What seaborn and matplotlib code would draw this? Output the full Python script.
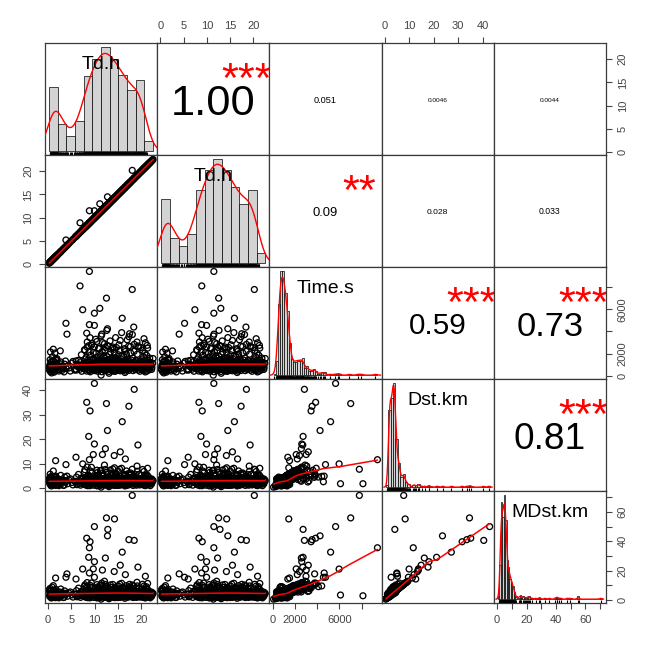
import numpy as np
import pandas as pd
import matplotlib
matplotlib.use("Agg")
import matplotlib.pyplot as plt
import matplotlib.transforms as mtransforms
import seaborn as sns

# ---------------- data ----------------
var_labels = ["Td.h", "Td.h", "Time.s", "Dst.km", "MDst.km"]

# individual outlying trips (hour, second hour reading, seconds, km, km)
out_td = [9.94, 18.5, 8.29, 12.53, 9.0, 17.36, 15.92, 12.75, 8.72, 3.82, 7.42, 8.86,
          18.08, 11.1, 6.85, 9.94, 8.86, 14.26, 12.82, 19.3, 9.94, 12.3, 11.66, 20.9,
          15.5, 5.98, 4.04, 11.53, 17.5, 18.1, 16.6, 1.6, 14.2, 9.7]
out_td_b = [11.5, 18.5, 8.29, 12.53, 9.0, 17.36, 15.92, 14.5, 8.72, 5.2, 7.42, 11.5,
            20.2, 13.0, 8.9, 9.94, 8.86, 14.26, 12.82, 19.3, 9.94, 12.3, 11.66, 20.9,
            15.5, 5.98, 4.04, 11.53, 17.5, 18.1, 16.6, 1.6, 14.2, 9.7]
out_time = [5650, 2840, 3850, 7010, 3440, 3530, 5200, 4250, 2720, 4740, 5966, 9420,
            7790, 6090, 8113, 4550, 4620, 1430, 2720, 2690, 2600, 2566, 3000, 2982,
            3190, 1343, 3760, 3760, 3800, 3725, 2200, 1500, 2400, 2100]
out_dst = [42.8, 40.4, 35.1, 34.6, 31.6, 33.5, 27.2, 23.6, 21.2, 9.7, 10.0, 11.7,
           7.8, 1.9, 1.9, 2.7, 5.0, 8.4, 4.2, 17.7, 18.1, 16.2, 13.8, 5.3,
           14.9, 12.7, 5.0, 6.0, 5.5, 4.5, 12.0, 11.3, 13.4, 13.8]
out_mdst = [50.0, 40.6, 42.1, 55.9, 39.7, 41.1, 32.6, 43.7, 29.1, 15.5, 21.1, 35.6,
            71.2, 3.4, 2.9, 15.5, 18.4, 55.2, 48.1, 22.4, 26.1, 28.6, 20.4, 16.2,
            23.7, 14.3, 17.8, 11.6, 10.7, 10.2, 17.3, 15.0, 19.4, 21.2]

# longer trips in the 2000-4500 s fan
mid_td = [7.8, 8.4, 9.3, 10.2, 10.9, 11.4, 12.1, 12.6, 13.3, 13.9,
          14.5, 15.2, 15.8, 16.4, 17.0, 17.7, 18.4, 19.1, 19.9, 20.6,
          21.3, 2.6, 1.1, 0.5]
mid_time = [2350, 3050, 2750, 3300, 2480, 3600, 2900, 4100, 3150, 2600,
            3450, 2800, 3900, 2450, 3250, 2650, 4400, 3050, 2550, 3350,
            2750, 2250, 2400, 2150]
mid_dst = [6.8, 4.1, 8.6, 5.2, 3.3, 7.4, 9.5, 4.6, 2.6, 7.9,
           5.9, 3.8, 8.2, 5.6, 3.1, 6.3, 4.9, 9.1, 2.9, 6.9,
           5.4, 3.6, 7.1, 4.4]
mid_mdst = [9.4, 8.2, 11.6, 7.8, 6.4, 10.3, 12.8, 9.1, 5.9, 10.6,
            8.3, 7.1, 11.4, 7.9, 6.2, 8.8, 9.6, 12.1, 5.5, 9.5,
            7.6, 5.4, 9.8, 6.3]

# the wider bulk of trips
blob_td = [0.21, 0.35, 0.42, 0.58, 0.66, 0.73, 0.85, 0.94, 1.02, 1.15, 1.22, 1.31, 1.44, 1.52, 1.63, 1.71, 1.86, 1.95,
           2.12, 2.38, 2.71, 2.95, 3.27, 3.55, 3.88,
           4.45, 5.12, 5.71,
           6.18, 6.52, 6.87, 7.14, 7.36, 7.63, 7.91,
           8.05, 8.21, 8.38, 8.47, 8.63, 8.79, 8.91, 9.08, 9.26, 9.41, 9.58, 9.72, 9.89,
           10.03, 10.11, 10.24, 10.33, 10.42, 10.55, 10.61, 10.74, 10.82, 10.93, 11.04, 11.12,
           11.21, 11.29, 11.38, 11.47, 11.56, 11.63, 11.72, 11.79, 11.85, 11.91, 11.96, 10.48,
           12.02, 12.09, 12.17, 12.24, 12.36, 12.44, 12.51, 12.62, 12.69, 12.77, 12.86, 12.93, 13.01,
           13.08, 13.16, 13.23, 13.31, 13.39, 13.47, 13.55, 13.62, 13.71, 13.79, 13.86, 13.93, 13.98,
           14.04, 14.12, 14.19, 14.27, 14.35, 14.43, 14.52, 14.6, 14.68, 14.77, 14.85, 14.94,
           15.02, 15.11, 15.19, 15.28, 15.37, 15.45, 15.56, 15.64, 15.73, 15.82, 15.93,
           16.05, 16.14, 16.23, 16.31, 16.42, 16.5, 16.61, 16.7, 16.82, 16.9, 17.01, 17.1,
           17.2, 17.29, 17.41, 17.52, 17.63, 17.75, 17.88,
           18.06, 18.19, 18.33, 18.46, 18.58, 18.72, 18.85, 19.0, 19.16, 19.31, 19.49, 19.66, 19.85,
           20.04, 20.13, 20.22, 20.31, 20.4, 20.51, 20.6, 20.69, 20.78, 20.88, 20.97, 21.08,
           21.17, 21.27, 21.38, 21.49, 21.6, 21.71, 21.83, 21.94,
           22.08, 22.3, 22.55]
blob_time = [620, 980, 1450, 760, 1210, 260, 890, 1720, 700, 1330, 460, 1050, 2050, 830, 1180, 640, 1560, 920,
             560, 900, 1250, 480, 720, 1050, 650,
             700, 1150, 520,
             880, 1400, 600, 1900, 760, 1100, 2300,
             950, 1650, 2600, 720, 1300, 2150, 480, 1850, 1020, 2900, 640, 1500, 820,
             880, 1420, 560, 2050, 1120, 760, 1680, 950, 2450, 620, 1300, 830,
             1900, 1050, 60, 1550, 700, 2200, 990, 1250, 590, 1780, 1080, 3100,
             1010, 640, 1580, 2300, 870, 1190, 530, 1740, 960, 2700, 760, 1360, 1120,
             230, 1920, 830, 1470, 2150, 680, 1030, 1610, 920, 2480, 570, 1250, 790,
             720, 1340, 980, 2100, 410, 1640, 860, 1200, 2550, 650, 1480, 1050,
             790, 1900, 610, 1270, 2250, 940, 1560, 700, 1130, 1820, 880,
             1090, 680, 1750, 920, 2350, 300, 1380, 800, 1960, 1160, 620, 1520,
             990, 2680, 740, 1280, 860, 2050, 1420,
             940, 1610, 720, 2200, 1180, 580, 1390, 860, 1950, 1060, 2600, 690, 1290,
             820, 1450, 1020, 2300, 640, 1700, 1150, 900, 2050, 350, 1330, 760,
             1850, 1080, 2500, 690, 1240, 970, 1600, 810,
             1200, 760, 1560]
blob_dst = [3.4, 1.9, 5.8, 1.2, 4.9, 1.6, 4.1, 3.7, 3.3, 2.6, 2.4, 4.5, 4.8, 1.5, 5.0, 3.0, 3.2, 1.6,
            3.1, 1.6, 5.3, 2.7, 1.2, 4.6, 3.2,
            3.5, 2.4, 2.9,
            1.5, 5.7, 3.1, 4.2, 3.8, 2.1, 7.6,
            4.3, 3.6, 8.7, 1.1, 5.4, 4.5, 2.8, 7.1, 1.9, 6.4, 3.4, 3.1, 3.9,
            4.1, 3.0, 3.1, 4.6, 4.9, 1.1, 6.5, 1.7, 5.3, 3.3, 2.6, 4.0,
            7.2, 2.0, 0.5, 3.4, 3.6, 5.0, 1.8, 5.4, 3.2, 3.9, 2.1, 7.4,
            1.8, 3.4, 3.3, 7.7, 4.1, 2.2, 3.0, 6.6, 1.5, 5.9, 3.7, 2.7, 4.8,
            0.7, 4.0, 3.9, 2.9, 7.5, 3.5, 1.9, 6.1, 1.4, 5.3, 3.2, 2.4, 3.8,
            3.6, 2.7, 4.4, 4.6, 1.2, 6.3, 1.4, 5.1, 5.6, 3.5, 3.1, 4.6,
            1.2, 6.9, 3.3, 2.5, 7.8, 1.6, 3.2, 3.6, 2.1, 3.8, 4.2,
            2.0, 3.5, 3.7, 4.2, 5.2, 1.0, 5.6, 1.2, 7.1, 2.1, 3.3, 3.1,
            4.4, 6.1, 3.7, 2.4, 4.0, 4.5, 5.7,
            4.3, 3.4, 3.6, 4.8, 2.2, 3.2, 5.6, 1.3, 7.0, 1.9, 5.7, 3.5, 2.5,
            4.0, 3.0, 1.8, 7.7, 3.4, 3.6, 4.9, 1.4, 4.4, 1.1, 5.4, 3.8,
            3.9, 1.9, 8.2, 3.6, 2.4, 4.4, 3.3, 1.1,
            2.2, 3.8, 3.2]
blob_mdst = [6.9, 2.4, 7.9, 1.8, 6.5, 2.0, 8.8, 5.0, 4.8, 3.5, 3.4, 6.4, 6.6, 2.2, 7.3, 4.0, 4.6, 2.3,
             4.4, 2.3, 7.5, 3.6, 1.7, 6.2, 4.6,
             4.8, 3.5, 4.1,
             2.2, 8.1, 4.2, 6.0, 5.1, 3.0, 10.4,
             6.0, 8.9, 11.9, 1.6, 7.3, 6.4, 3.8, 9.9, 5.4, 8.7, 4.8, 4.2, 5.5,
             5.6, 7.9, 4.2, 6.5, 6.8, 1.6, 8.9, 4.9, 7.5, 4.5, 2.9, 5.5,
             9.9, 2.8, 0.6, 4.8, 9.0, 7.1, 2.5, 7.4, 4.6, 5.3, 3.0, 10.5,
             2.6, 8.4, 4.6, 10.6, 5.8, 5.9, 4.3, 9.2, 2.1, 8.2, 5.1, 3.8, 6.8,
             0.9, 5.5, 4.3, 4.1, 10.3, 8.7, 2.7, 8.6, 2.0, 7.3, 4.5, 3.3, 5.3,
             5.0, 6.9, 6.1, 6.3, 1.6, 8.7, 4.6, 7.1, 7.8, 4.8, 4.4, 5.1,
             1.7, 9.5, 4.6, 7.2, 10.8, 2.3, 4.5, 5.1, 2.9, 5.2, 5.9,
             2.9, 8.8, 5.2, 5.8, 7.3, 1.2, 7.7, 3.9, 9.8, 3.0, 4.6, 3.5,
             6.2, 8.5, 5.1, 3.4, 5.6, 6.2, 7.9,
             5.9, 7.7, 5.0, 6.7, 2.4, 4.5, 7.8, 1.8, 9.6, 2.7, 7.9, 4.9, 3.5,
             5.6, 7.6, 2.0, 10.7, 4.7, 5.0, 6.9, 2.0, 6.1, 1.4, 7.6, 9.1,
             5.4, 2.7, 11.3, 5.0, 3.4, 6.1, 4.6, 1.5,
             3.1, 5.3, 4.5]

# the dense core of short trips
core_td = [0.26, 0.31, 0.47, 0.53, 0.62, 0.69, 0.78, 0.88, 0.97, 1.07, 1.18, 1.27, 1.36, 1.49, 1.57, 1.77, 1.91,
           2.05, 2.29, 2.56, 2.84, 3.12, 3.41, 3.72,
           4.18, 4.76, 5.33, 5.88,
           6.08, 6.33, 6.61, 6.95, 7.22, 7.48, 7.71, 7.97,
           8.02, 8.13, 8.26, 8.33, 8.42, 8.55, 8.68, 8.74, 8.83, 8.97,
           9.04, 9.13, 9.21, 9.33, 9.46, 9.52, 9.64, 9.77, 9.83, 9.95,
           10.06, 10.15, 10.19, 10.28, 10.37, 10.46, 10.52, 10.58, 10.67, 10.78,
           10.86, 10.97, 11.01, 11.09, 11.16, 11.25, 11.33, 11.42, 11.51, 11.59,
           11.68, 11.76, 11.88, 11.93,
           12.05, 12.13, 12.2, 12.28, 12.32, 12.4, 12.48, 12.56, 12.65, 12.73,
           12.81, 12.89, 12.97, 13.04, 13.12, 13.19, 13.27, 13.35, 13.43, 13.51,
           13.58, 13.66, 13.74, 13.82, 13.89, 13.95, 12.59,
           14.01, 14.09, 14.16, 14.23, 14.31, 14.39, 14.47, 14.56, 14.64, 14.72,
           14.81, 14.89, 14.97, 15.06, 15.14, 15.23, 15.32, 15.41, 15.5, 15.59,
           15.68, 15.77, 15.86, 15.97,
           16.02, 16.1, 16.19, 16.27, 16.36, 16.46, 16.55, 16.65, 16.76, 16.86,
           16.95, 17.05, 17.15, 17.24, 17.34, 17.46, 17.57, 17.68, 17.8, 17.93,
           18.02, 18.13, 18.26, 18.39, 18.52, 18.65, 18.78, 18.91, 19.05, 19.2,
           19.36, 19.43, 19.57, 19.71, 19.79, 19.92,
           20.08, 20.17, 20.26, 20.35, 20.45, 20.55, 20.64, 20.74, 20.83, 20.93,
           21.02, 21.12, 21.22, 21.33, 21.44, 21.55, 21.66, 21.77, 21.89,
           22.15, 22.24, 22.47]
core_time = [540, 820, 380, 1010, 690, 1280, 470, 930, 610, 750, 1120, 330, 860, 580, 990, 720, 1380,
             810, 430, 1090, 620, 880, 350, 1340,
             900, 430, 1300, 610,
             520, 1030, 740, 1260, 410, 950, 640, 1520,
             610, 1180, 430, 870, 1390, 720, 980, 520, 1240, 800,
             360, 1080, 660, 1460, 900, 560, 1150, 760, 1020, 470,
             720, 1040, 480, 860, 1310, 590, 940, 1170, 410, 800,
             1090, 650, 1420, 530, 880, 1230, 700, 990, 370, 1110,
             780, 1350, 610, 920,
             780, 1130, 460, 920, 1370, 640, 1010, 850, 1250, 560,
             970, 700, 1460, 390, 1060, 810, 1190, 600, 890, 1320,
             520, 990, 740, 1100, 430, 1280, 680,
             890, 540, 1210, 760, 1050, 420, 1330, 680, 960, 1140,
             590, 830, 1400, 500, 1010, 740, 1190, 870, 450, 1080,
             650, 1280, 930, 560,
             760, 1120, 520, 940, 1290, 640, 1030, 430, 870, 1210,
             580, 990, 700, 1360, 480, 910, 1150, 610, 1040, 790,
             680, 1050, 470, 880, 1240, 590, 960, 1370, 730, 1120,
             520, 830, 1010, 410, 1290, 650,
             930, 560, 1170, 740, 1320, 480, 1010, 850, 620, 1230,
             770, 1080, 430, 950, 1400, 670, 1120, 540, 880,
             940, 580, 1130]
core_dst = [4.2, 2.3, 3.0, 1.9, 2.7, 1.0, 3.4, 2.4, 2.0, 2.9, 1.5, 3.9, 2.2, 3.1, 1.2, 2.6, 1.7,
            4.0, 1.1, 2.7, 1.9, 3.3, 1.3, 2.5,
            1.9, 3.9, 1.4, 2.8,
            4.6, 2.0, 2.9, 1.3, 3.8, 2.3, 3.1, 1.6,
            1.4, 3.1, 2.3, 3.5, 1.7, 2.8, 4.4, 2.0, 3.3, 1.1,
            2.5, 3.8, 1.6, 3.0, 2.2, 4.2, 2.7, 1.3, 3.6, 1.9,
            2.8, 1.9, 4.1, 2.4, 3.4, 1.1, 3.0, 2.1, 3.7, 2.7,
            1.6, 4.3, 2.0, 3.3, 2.5, 1.2, 3.5, 2.9, 1.8, 4.0,
            2.6, 1.5, 3.2, 2.2,
            2.1, 3.9, 1.3, 3.3, 2.3, 3.0, 1.6, 4.0, 2.7, 1.8,
            3.6, 2.5, 3.2, 1.2, 4.4, 2.1, 2.9, 1.7, 3.8, 2.6,
            3.1, 2.0, 4.1, 2.8, 1.4, 3.4, 2.4,
            1.7, 2.8, 3.9, 2.0, 3.3, 1.4, 2.6, 3.6, 2.3, 3.1,
            1.5, 4.3, 2.5, 1.8, 3.5, 2.9, 2.1, 4.0, 1.3, 3.2,
            2.3, 3.7, 1.7, 2.7,
            2.4, 3.2, 1.9, 3.5, 2.8, 1.5, 4.1, 2.1, 3.0, 1.8,
            3.7, 2.7, 1.3, 3.1, 2.0, 3.9, 2.9, 1.6, 3.4, 2.3,
            2.0, 3.9, 1.2, 3.1, 2.5, 1.6, 3.4, 2.2, 4.2, 2.9,
            1.8, 3.8, 2.7, 1.4, 3.2, 2.1,
            2.7, 1.6, 3.4, 2.0, 4.2, 2.9, 1.3, 3.3, 2.4, 3.7,
            1.9, 2.6, 3.1, 1.5, 4.0, 2.3, 3.5, 1.7, 2.8,
            3.4, 1.8, 2.9]
core_mdst = [6.1, 3.2, 4.2, 2.6, 3.8, 1.4, 4.8, 3.3, 2.7, 4.1, 2.1, 5.6, 3.1, 4.3, 1.6, 3.6, 2.4,
             5.7, 1.5, 3.8, 2.7, 4.6, 1.8, 3.5,
             2.6, 5.5, 2.0, 3.9,
             6.4, 2.8, 4.1, 1.8, 5.4, 3.2, 4.4, 2.3,
             2.0, 4.4, 3.2, 4.9, 2.4, 3.9, 6.2, 2.8, 4.6, 1.5,
             3.5, 5.3, 2.3, 4.2, 3.1, 5.9, 3.8, 1.8, 5.1, 2.7,
             3.9, 2.7, 5.7, 3.4, 4.8, 1.5, 4.2, 2.9, 5.2, 3.8,
             2.2, 6.0, 2.8, 4.6, 3.5, 1.7, 4.9, 4.0, 2.5, 5.6,
             3.6, 2.1, 4.5, 3.1,
             2.9, 5.5, 1.8, 4.6, 3.2, 4.2, 2.2, 5.6, 3.8, 2.5,
             5.0, 3.5, 4.5, 1.7, 6.2, 2.9, 4.1, 2.4, 5.3, 3.6,
             4.3, 2.8, 5.7, 3.9, 2.0, 4.8, 3.4,
             2.4, 3.9, 5.5, 2.8, 4.6, 2.0, 3.7, 5.0, 3.2, 4.3,
             2.1, 6.0, 3.5, 2.5, 4.9, 4.1, 2.9, 5.6, 1.8, 4.5,
             3.2, 5.2, 2.4, 3.8,
             3.4, 4.5, 2.7, 4.9, 3.9, 2.1, 5.8, 3.0, 4.2, 2.5,
             5.2, 3.8, 1.9, 4.4, 2.8, 5.5, 4.1, 2.3, 4.8, 3.2,
             2.8, 5.5, 1.7, 4.3, 3.5, 2.2, 4.8, 3.1, 5.9, 4.1,
             2.5, 5.3, 3.8, 2.0, 4.5, 2.9,
             3.8, 2.3, 4.8, 2.8, 5.9, 4.1, 1.8, 4.6, 3.3, 5.2,
             2.7, 3.6, 4.3, 2.1, 5.6, 3.2, 4.9, 2.4, 4.0,
             4.8, 2.5, 4.1]

# correlation panel texts as printed
cor_cells = [(0, 1), (0, 2), (0, 3), (0, 4), (1, 2), (1, 3), (1, 4), (2, 3), (2, 4), (3, 4)]
cor_values = [1.00, 0.051, 0.0046, 0.0044, 0.09, 0.028, 0.033, 0.59, 0.73, 0.81]
cor_labels = ["1.00", "0.051", "0.0046", "0.0044", "0.09", "0.028", "0.033", "0.59", "0.73", "0.81"]
cor_stars = ["***", "", "", "", "**", "", "", "***", "***", "***"]

# axis ticks
tick_pos = [[0, 5, 10, 15, 20], [0, 5, 10, 15, 20], [0, 2000, 4000, 6000, 8000],
            [0, 10, 20, 30, 40], [0, 10, 20, 30, 40, 50, 60, 70]]
tick_lab = [["0", "5", "10", "15", "20"], ["0", "5", "10", "15", "20"],
            ["0", "2000", "", "6000", ""], ["0", "10", "20", "30", "40"],
            ["0", "", "20", "", "40", "", "60", ""]]
hist_step = [2, 2, 200, 1, 1]

# ---------------- build table ----------------
cols = ["td_a", "td_b", "time", "dst", "mdst"]
df = pd.DataFrame({
    "td_a": out_td + mid_td + blob_td + core_td,
    "td_b": out_td_b + mid_td + blob_td + core_td,
    "time": out_time + mid_time + blob_time + core_time,
    "dst": out_dst + mid_dst + blob_dst + core_dst,
    "mdst": out_mdst + mid_mdst + blob_mdst + core_mdst,
})


def lowess(x, y, f=2.0 / 3.0, iters=4):
    """Robust locally weighted regression (as R's lowess / panel.smooth)."""
    order = np.argsort(x, kind="mergesort")
    x = np.asarray(x, float)[order]
    y = np.asarray(y, float)[order]
    n = len(x)
    r = int(np.ceil(f * n))
    h = np.array([np.sort(np.abs(x - x[i]))[min(r, n - 1)] for i in range(n)])
    h[h == 0] = 1e-9
    w = np.clip(np.abs((x[:, None] - x[None, :]) / h[None, :]), 0.0, 1.0)
    w = (1 - w ** 3) ** 3
    yest = np.zeros(n)
    delta = np.ones(n)
    for _ in range(iters):
        for i in range(n):
            wt = delta * w[:, i]
            dx = x - x[i]
            A = np.array([[wt.sum(), (wt * dx).sum()], [(wt * dx).sum(), (wt * dx * dx).sum()]])
            b = np.array([(wt * y).sum(), (wt * y * dx).sum()])
            beta = np.linalg.lstsq(A, b, rcond=None)[0]
            yest[i] = beta[0]
        res = y - yest
        s = np.median(np.abs(res))
        if s == 0:
            break
        d = np.clip(res / (6.0 * s), -1, 1)
        delta = (1 - d ** 2) ** 2
    return x, yest


sns.set_theme(style="white")
plt.rcParams["font.family"] = ["Liberation Sans", "DejaVu Sans"]

FIG_W, FIG_H = 650, 651
fig, axes = plt.subplots(5, 5, figsize=(FIG_W / 100, FIG_H / 100), dpi=100)
fig.subplots_adjust(left=45 / FIG_W, right=606 / FIG_W, top=1 - 43.3 / FIG_H,
                    bottom=1 - 603.3 / FIG_H, wspace=0, hspace=0)

lims = []
for c in cols:
    lo, hi = df[c].min(), df[c].max()
    pad = 0.04 * (hi - lo)
    lims.append((lo - pad, hi + pad))

frame_col = "#3a3a3a"
tick_col = "#444444"

for i in range(5):
    for j in range(5):
        ax = axes[i, j]
        show_top = (i == 0 and j % 2 == 1)
        show_bottom = (i == 4 and j % 2 == 0)
        show_left = (j == 0 and i % 2 == 1)
        show_right = (j == 4 and i % 2 == 0)

        if i > j:
            xv = df[cols[j]].values
            yv = df[cols[i]].values
            sns.scatterplot(x=xv, y=yv, ax=ax, s=18, marker="o", color="black",
                            facecolor="none", edgecolor="black", linewidth=0.95,
                            legend=False, zorder=2)
            lx, ly = lowess(xv, yv)
            ax.plot(lx, ly, color="red", lw=1.1, zorder=3)
        elif i < j:
            k = cor_cells.index((i, j))
            txt = cor_labels[k]
            r = cor_values[k]
            width_em = sum(0.278 if ch == "." else 0.556 for ch in txt)
            base = 31.2 * 1.946 / width_em
            fs = base * (abs(r) + 0.3) / 1.3
            tr = mtransforms.offset_copy(ax.transAxes, fig=fig, y=-0.358 * fs, units="points")
            ax.text(0.5, 0.5, txt, transform=tr, ha="center", va="baseline",
                    fontsize=fs, color="black")
            if cor_stars[k]:
                tr2 = mtransforms.offset_copy(ax.transAxes, fig=fig, y=-0.57 * base, units="points")
                ax.text(0.8, 0.785, cor_stars[k], transform=tr2, ha="center", va="baseline",
                        fontsize=base, color="red", clip_on=True)
        else:
            vals = df[cols[i]].values
            step = hist_step[i]
            e0 = np.floor(vals.min() / step) * step
            e1 = np.ceil(vals.max() / step) * step
            edges = np.arange(e0, e1 + step / 2, step)
            hax = ax.inset_axes([0, 0, 1, 1])
            hax.patch.set_alpha(0)
            sd = vals.std(ddof=1)
            iqr = np.subtract(*np.percentile(vals, [75, 25]))
            bw = 0.9 * min(sd, iqr / 1.34) * len(vals) ** (-0.2)
            sns.histplot(x=vals, bins=edges, stat="density", ax=hax, color="#D3D3D3",
                         edgecolor="black", linewidth=0.5, alpha=1)
            sns.kdeplot(x=vals, ax=hax, color="red", linewidth=1.0, bw_method=bw / sd, cut=3)
            sns.rugplot(x=vals, ax=hax, height=0.03, color="black", linewidth=0.8)
            dens, _ = np.histogram(vals, bins=edges, density=True)
            hmax = dens.max()
            span = edges[-1] - edges[0]
            hax.set_xlim(edges[0] - 0.04 * span, edges[-1] + 0.04 * span)
            hax.set_ylim(-0.04 * hmax, 1.04 * hmax)
            hax.axis("off")
            lab_fs = 14
            tr = mtransforms.offset_copy(hax.transAxes, fig=fig, y=-0.358 * lab_fs, units="points")
            hax.text(0.5, 0.833, var_labels[i], transform=tr, ha="center", va="baseline",
                     fontsize=lab_fs, color="black", zorder=10)

        ax.set_xlim(lims[j])
        ax.set_ylim(lims[i])
        ax.set_xlabel("")
        ax.set_ylabel("")
        if show_top or show_bottom:
            ax.set_xticks(tick_pos[j], tick_lab[j])
        else:
            ax.set_xticks([])
        if show_left or show_right:
            ax.set_yticks(tick_pos[i], tick_lab[i])
        else:
            ax.set_yticks([])
        for sp in ax.spines.values():
            sp.set_visible(True)
            sp.set_color(frame_col)
            sp.set_linewidth(0.9)
        ax.tick_params(which="both", direction="out", length=4, width=0.8,
                       color=tick_col, labelcolor=tick_col, labelsize=8, pad=4.5,
                       bottom=show_bottom, top=show_top, left=show_left, right=show_right,
                       labelbottom=show_bottom, labeltop=show_top,
                       labelleft=show_left, labelright=show_right)
        if show_left or show_right:
            ax.tick_params(axis="y", labelrotation=90)
            for lab in ax.get_yticklabels():
                lab.set_verticalalignment("center")

fig.savefig("out.png", dpi=100)
